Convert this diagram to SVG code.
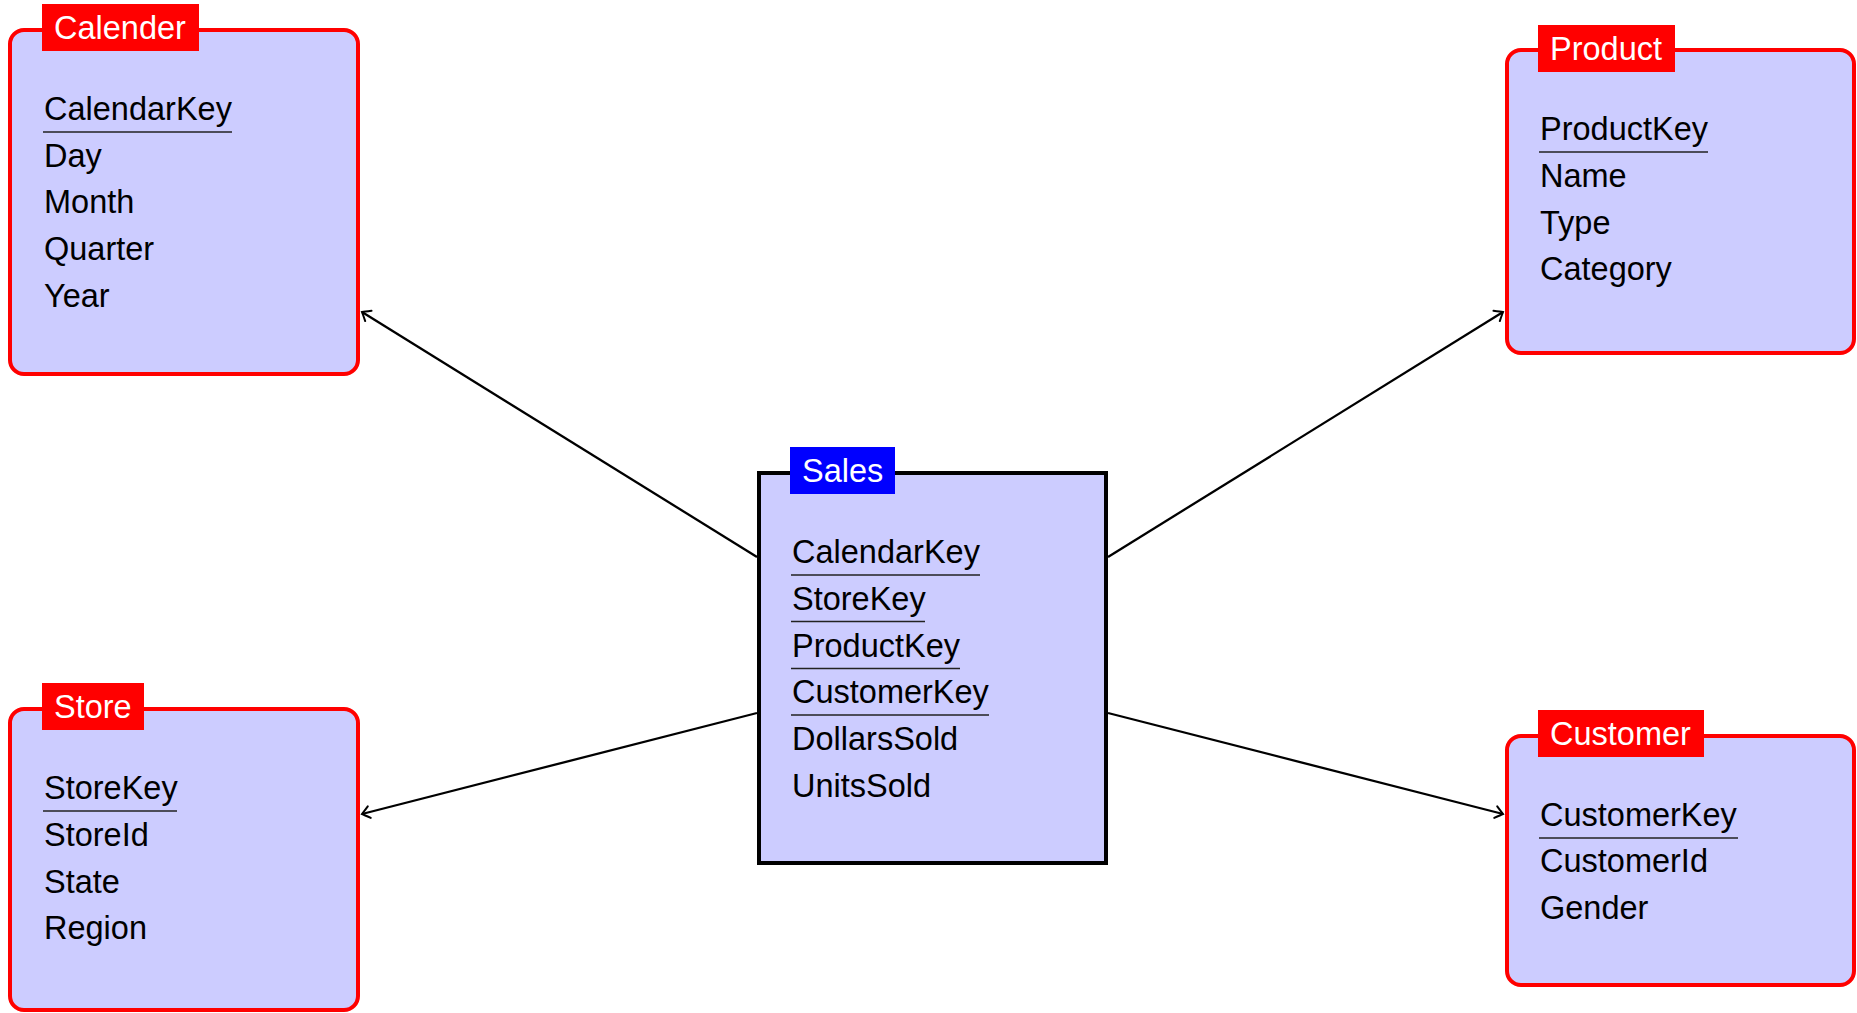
<svg xmlns="http://www.w3.org/2000/svg" width="1857" height="1013" viewBox="0 0 1857 1013">
<style>
.box{fill:#ccccff;stroke:#ff0000;stroke-width:4}
.fact{fill:#ccccff;stroke:#000;stroke-width:4}
.lab{fill:#ff0000}
.labb{fill:#0000ff}
.lt{font-family:"Liberation Sans",Arial,sans-serif;font-size:32.5px;fill:#fff}
.at{font-family:"Liberation Sans",Arial,sans-serif;font-size:32.5px;fill:#000}
.ul{stroke:#222;stroke-width:1.4}
.conn{stroke:#000;stroke-width:2.3;fill:none;marker-end:url(#arr)}
</style>
<defs>
<marker id="arr" viewBox="-10 -8 12 16" refX="0" refY="0" markerWidth="12" markerHeight="16" markerUnits="userSpaceOnUse" orient="auto">
<path d="M-7.5,-6 Q-1.8,-1.4 0,0 Q-1.8,1.4 -7.5,6" fill="none" stroke="#000" stroke-width="2" stroke-linecap="round"/>
</marker>
</defs>
<g id="connectors">
<line class="conn" x1="757" y1="557" x2="362" y2="312"/>
<line class="conn" x1="757" y1="713" x2="362" y2="814"/>
<line class="conn" x1="1108" y1="557" x2="1503" y2="312"/>
<line class="conn" x1="1108" y1="713" x2="1503" y2="814"/>
</g>
<g id="calender">
<rect class="box" x="10" y="30" width="348" height="344" rx="14"/>
<rect class="lab" x="42" y="4" width="157" height="47"/>
<text class="lt" x="54" y="39">Calender</text>
<text class="at" x="44" y="119.5">CalendarKey</text>
<line class="ul" x1="43" y1="132" x2="232" y2="132"/>
<text class="at" x="44" y="166.5">Day</text>
<text class="at" x="44" y="213">Month</text>
<text class="at" x="44" y="260">Quarter</text>
<text class="at" x="44" y="307">Year</text>
</g>
<g id="product">
<rect class="box" x="1507" y="50" width="347" height="303" rx="14"/>
<rect class="lab" x="1538" y="25" width="137" height="47"/>
<text class="lt" x="1550" y="60">Product</text>
<text class="at" x="1540" y="140">ProductKey</text>
<line class="ul" x1="1539" y1="152" x2="1708" y2="152"/>
<text class="at" x="1540" y="187">Name</text>
<text class="at" x="1540" y="233.5">Type</text>
<text class="at" x="1540" y="280">Category</text>
</g>
<g id="store">
<rect class="box" x="10" y="709" width="348" height="301" rx="14"/>
<rect class="lab" x="42" y="683" width="102" height="47"/>
<text class="lt" x="54" y="718">Store</text>
<text class="at" x="44" y="799">StoreKey</text>
<line class="ul" x1="43" y1="811" x2="177" y2="811"/>
<text class="at" x="44" y="846">StoreId</text>
<text class="at" x="44" y="892.5">State</text>
<text class="at" x="44" y="939">Region</text>
</g>
<g id="customer">
<rect class="box" x="1507" y="736" width="347" height="249" rx="14"/>
<rect class="lab" x="1538" y="710" width="166" height="47"/>
<text class="lt" x="1550" y="745">Customer</text>
<text class="at" x="1540" y="825.5">CustomerKey</text>
<line class="ul" x1="1539" y1="838" x2="1738" y2="838"/>
<text class="at" x="1540" y="872">CustomerId</text>
<text class="at" x="1540" y="918.5">Gender</text>
</g>
<g id="sales">
<rect class="fact" x="759" y="473" width="347" height="390"/>
<rect class="labb" x="790" y="447" width="105" height="47"/>
<text class="lt" x="802" y="482">Sales</text>
<text class="at" x="792" y="563">CalendarKey</text>
<line class="ul" x1="791" y1="575" x2="980" y2="575"/>
<text class="at" x="792" y="610">StoreKey</text>
<line class="ul" x1="791" y1="621.5" x2="925" y2="621.5"/>
<text class="at" x="792" y="656.5">ProductKey</text>
<line class="ul" x1="791" y1="668.5" x2="960" y2="668.5"/>
<text class="at" x="792" y="703">CustomerKey</text>
<line class="ul" x1="791" y1="715" x2="989" y2="715"/>
<text class="at" x="792" y="750">DollarsSold</text>
<text class="at" x="792" y="797">UnitsSold</text>
</g>
</svg>
